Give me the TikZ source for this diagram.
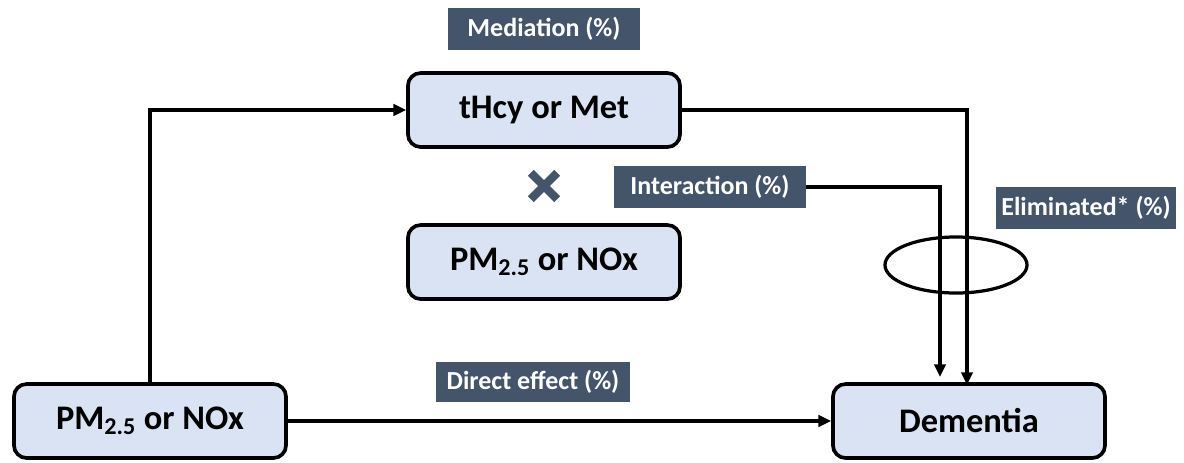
\documentclass[tikz,border=0pt]{standalone}
\usepackage{fontspec}
\setmainfont{Carlito}
\usetikzlibrary{arrows.meta,shapes.misc}

\begin{document}
\begin{tikzpicture}[x=0.025cm,y=-0.025cm,
  box/.style={draw=black,line width=2.6pt,rounded corners=9pt,fill=boxfill,
    minimum width=6.8cm,minimum height=1.85cm,inner sep=0pt,
    font=\fontsize{24.5}{28}\selectfont\bfseries},
  tag/.style={fill=slate,text=white,inner sep=0pt,minimum height=1.05cm,
    font=\fontsize{18.5}{22}\selectfont\bfseries},
  link/.style={line width=2.3pt,-{Triangle[length=9pt,width=8pt]}}]
 \definecolor{boxfill}{RGB}{218,227,243}
 \definecolor{slate}{RGB}{68,84,106}
 \useasboundingbox (0,0) rectangle (1184,462);

 \node[box] (pm) at (150,421) {PM\textsubscript{2.5} or NOx};
 \node[box] (dem) at (969,421) {Dementia};
 \node[box] (thcy) at (544,110) {tHcy or Met};
 \node[box] (pmx) at (544,262) {PM\textsubscript{2.5} or NOx};

 \node[tag,minimum width=4.8cm] (med) at (544,29) {Mediation (\%)};
 \node[tag,minimum width=4.78cm] (inter) at (710,187) {Interaction (\%)};
 \node[tag,minimum width=4.48cm] (elim) at (1086,208) {Eliminated* (\%)};
 \node[tag,minimum width=4.85cm,minimum height=1cm] (direct) at (533,382) {Direct effect (\%)};

 \node[cross out,draw=slate,line width=6pt,minimum size=0.45cm,inner sep=0pt] (times) at (544,186) {};

 \coordinate (tipl) at (940,377);
 \coordinate (tipr) at (967,385);

 \draw[link] (pm.north) |- (thcy.west);
 \draw[link] (thcy.east) -| (tipr);
 \draw[link] (inter.east) -| (tipl);
 \draw[link] (pm.east) -- (dem.west);

 \draw[line width=2.3pt] (956,265) ellipse [x radius=1.775cm,y radius=0.7cm];
\end{tikzpicture}
\end{document}
